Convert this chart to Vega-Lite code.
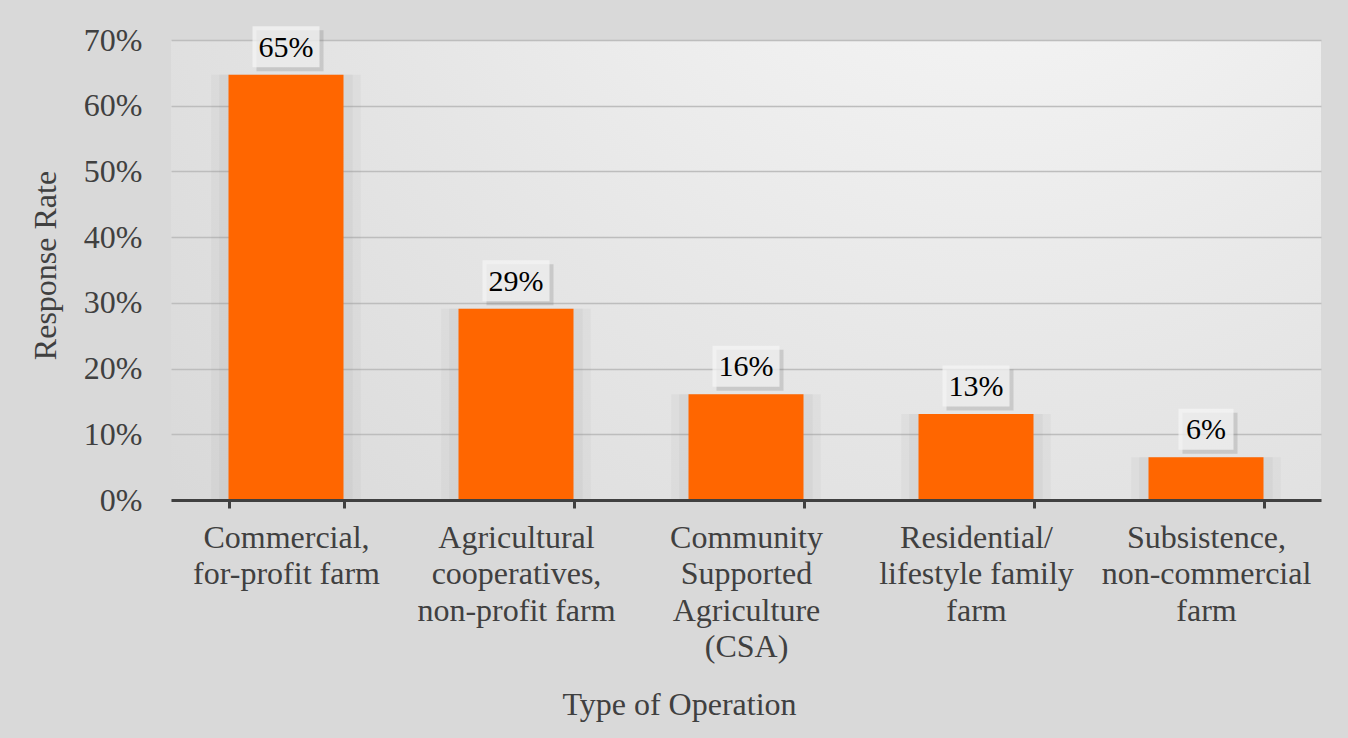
{
  "$schema": "https://vega.github.io/schema/vega-lite/v6.json",
  "width": 1150,
  "height": 460,
  "autosize": {"type": "none"},
  "padding": {"left": 171, "top": 40, "right": 27, "bottom": 238},
  "background": "#d9d9d9",
  "view": {
    "stroke": null,
    "fill": {
      "gradient": "radial",
      "x1": 0.72, "y1": 0.04, "r1": 0,
      "x2": 0.72, "y2": 0.04, "r2": 1.15,
      "stops": [
        {"offset": 0, "color": "#fbfbfb"},
        {"offset": 0.5, "color": "#e6e6e6"},
        {"offset": 1, "color": "#d3d3d3"}
      ]
    }
  },
  "data": {
    "values": [
      {"Type": "Commercial,|for-profit farm", "Rate": 0.647, "Label": "65%"},
      {"Type": "Agricultural|cooperatives,|non-profit farm", "Rate": 0.291, "Label": "29%"},
      {"Type": "Community|Supported|Agriculture|(CSA)", "Rate": 0.161, "Label": "16%"},
      {"Type": "Residential/|lifestyle family|farm", "Rate": 0.131, "Label": "13%"},
      {"Type": "Subsistence,|non-commercial|farm", "Rate": 0.065, "Label": "6%"}
    ]
  },
  "encoding": {
    "x": {
      "field": "Type",
      "type": "nominal",
      "sort": null,
      "scale": {"paddingInner": 0.5, "paddingOuter": 0.25},
      "axis": {
        "title": "Type of Operation",
        "labelExpr": "split(datum.label, '|')",
        "labelAngle": 0,
        "labelFont": "Liberation Serif",
        "labelFontSize": 32,
        "labelColor": "#404040",
        "labelLineHeight": 36.5,
        "labelPadding": 14,
        "labelLimit": 0,
        "tickBand": "extent",
        "tickSize": 8,
        "tickWidth": 3,
        "tickColor": "#404040",
        "domainColor": "#404040",
        "domainWidth": 3,
        "titleFont": "Liberation Serif",
        "titleFontSize": 32,
        "titleFontWeight": "normal",
        "titleColor": "#404040",
        "titleX": 508,
        "titleY": 204,
        "titleAlign": "center",
        "titleAnchor": "start",
        "titleBaseline": "middle",
        "zindex": 1
      }
    },
    "y": {
      "field": "Rate",
      "type": "quantitative",
      "scale": {"domain": [0, 0.7]},
      "axis": {
        "title": "Response Rate",
        "values": [0, 0.1, 0.2, 0.3, 0.4, 0.5, 0.6, 0.7],
        "format": ".0%",
        "domain": false,
        "ticks": false,
        "grid": true,
        "gridColor": "#bdbdbd",
        "gridWidth": 1.5,
        "labelFont": "Liberation Serif",
        "labelFontSize": 32,
        "labelColor": "#404040",
        "labelPadding": 29,
        "titleFont": "Liberation Serif",
        "titleFontSize": 32,
        "titleFontWeight": "normal",
        "titleColor": "#404040",
        "titleX": -126,
        "titleY": 225,
        "titleBaseline": "middle"
      }
    }
  },
  "layer": [
    {"mark": {"type": "bar", "color": "#8a8a8a", "opacity": 0.07, "width": {"band": 1.3}}},
    {"mark": {"type": "bar", "color": "#8a8a8a", "opacity": 0.08, "width": {"band": 1.16}}},
    {"mark": {"type": "bar", "color": "#FF6600", "width": {"band": 1}}},
    {
      "mark": {"type": "point", "filled": true, "color": "#777777", "opacity": 0.25, "size": 4489, "yOffset": -24, "xOffset": 4, "strokeWidth": 0},
      "encoding": {
        "shape": {"condition": {"test": "datum.Rate < 0.1", "value": "M-0.821,-0.612H0.821V0.612H-0.821Z"}, "value": "M-1,-0.612H1V0.612H-1Z"}
      }
    },
    {
      "mark": {"type": "point", "filled": true, "color": "#f4f4f4", "opacity": 0.75, "size": 4489, "yOffset": -28, "strokeWidth": 0},
      "encoding": {
        "shape": {"condition": {"test": "datum.Rate < 0.1", "value": "M-0.821,-0.612H0.821V0.612H-0.821Z"}, "value": "M-1,-0.612H1V0.612H-1Z"}
      }
    },
    {
      "mark": {"type": "text", "font": "Liberation Serif", "fontSize": 30, "color": "#000000", "baseline": "middle", "yOffset": -27},
      "encoding": {"text": {"field": "Label"}}
    }
  ]
}
